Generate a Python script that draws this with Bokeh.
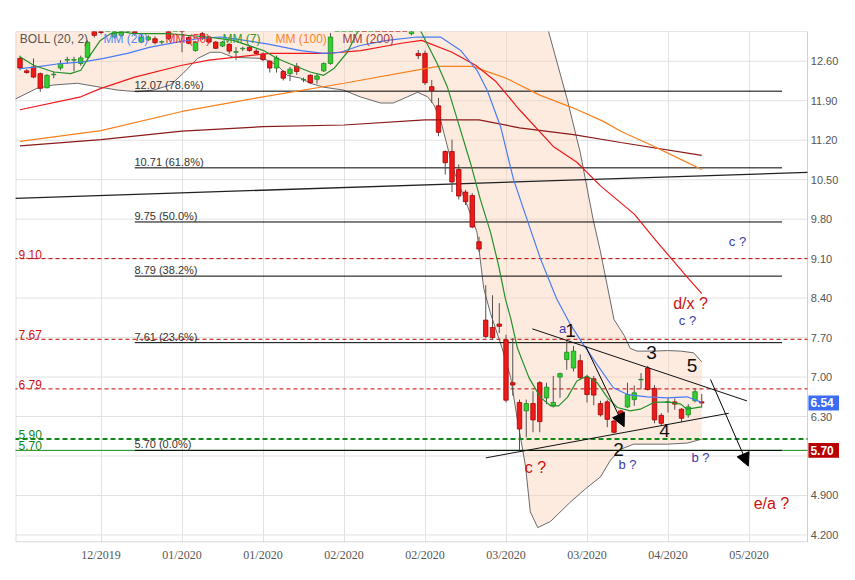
from bokeh.plotting import figure
from bokeh.models import FixedTicker, Label, Arrow, NormalHead, ColumnDataSource
from bokeh.core.properties import value
from bokeh.embed import file_html
from bokeh.resources import INLINE

# ---------------- data ----------------
opens = [12.65, 12.43, 12.50, 12.38, 12.13, 12.36, 12.48, 12.62, 12.62, 12.56,
         12.67, 13.22, 13.25, 13.15, 13.03, 13.06, 13.20, 13.25, 12.94, 12.98,
         13.00, 12.94, 13.20, 13.15, 13.22, 13.02, 12.79, 13.09, 13.03, 12.94,
         12.87, 12.90, 12.76, 12.82, 12.85, 12.78, 12.73, 12.60, 12.48, 12.42,
         12.38, 12.51, 12.27, 12.35, 12.28, 12.43, 12.56, 13.20, 13.40, 13.55,
         13.62, 13.70, 13.65, 13.85, 13.80, 13.70, 13.55, 13.45, 13.09, 12.74,
         12.74, 12.15, 11.81, 11.00, 11.00, 10.68, 10.28, 10.22, 9.40, 8.01,
         7.88, 7.94, 7.66, 6.90, 6.55, 6.40, 6.53, 6.90, 6.63, 6.49,
         7.00, 7.31, 7.16, 7.29, 7.00, 6.97, 6.53, 6.56, 6.22, 6.40,
         6.47, 6.60, 6.95, 7.16, 6.80, 6.32, 6.55, 6.56, 6.43, 6.33,
         6.58, 6.56]
highs = [12.70, 12.46, 12.65, 12.40, 12.37, 12.42, 12.62, 12.68, 12.68, 12.70,
         12.97, 13.30, 13.32, 13.40, 13.30, 13.28, 13.35, 13.32, 13.10, 13.06,
         13.04, 12.97, 13.25, 13.30, 13.30, 13.05, 12.96, 13.12, 13.05, 12.96,
         12.96, 12.92, 12.85, 12.86, 12.87, 12.82, 12.76, 12.62, 12.70, 12.44,
         12.50, 12.57, 12.31, 12.37, 12.38, 12.58, 13.10, 13.45, 13.60, 13.70,
         13.80, 13.85, 13.90, 13.95, 13.90, 13.80, 13.65, 13.55, 13.45, 12.80,
         12.79, 12.27, 11.95, 11.02, 11.21, 10.77, 10.32, 10.26, 9.49, 8.63,
         8.45, 8.31, 7.75, 7.69, 6.60, 6.60, 6.75, 6.93, 6.90, 7.02,
         7.08, 7.66, 7.55, 7.40, 7.04, 7.02, 6.58, 6.60, 6.25, 6.42,
         6.90, 6.85, 7.07, 7.20, 6.86, 6.36, 6.63, 6.62, 6.45, 6.52,
         6.80, 6.70]
lows = [12.44, 12.38, 12.30, 12.06, 12.12, 12.30, 12.44, 12.55, 12.42, 12.52,
        12.65, 13.02, 13.08, 13.14, 13.00, 13.03, 13.12, 13.05, 12.92, 12.96,
        12.90, 12.90, 12.98, 13.14, 12.76, 12.90, 12.77, 12.98, 12.92, 12.82,
        12.85, 12.73, 12.62, 12.78, 12.77, 12.72, 12.60, 12.40, 12.40, 12.26,
        12.25, 12.36, 12.23, 12.20, 12.20, 12.41, 12.54, 13.16, 13.30, 13.45,
        13.50, 13.55, 13.60, 13.70, 13.60, 13.50, 13.35, 13.25, 13.06, 12.64,
        12.18, 11.86, 11.27, 10.59, 10.28, 10.15, 10.05, 9.64, 9.22, 7.69,
        7.66, 7.78, 6.55, 6.67, 5.70, 5.93, 6.02, 6.02, 6.52, 6.46,
        6.63, 7.13, 7.10, 6.96, 6.55, 6.50, 6.30, 6.11, 6.00, 6.22,
        6.45, 6.49, 6.78, 6.76, 6.18, 6.14, 6.37, 6.42, 6.20, 6.28,
        6.55, 6.46]
closes = [12.48, 12.40, 12.32, 12.12, 12.35, 12.37, 12.56, 12.63, 12.63, 12.66,
          12.94, 13.06, 13.11, 13.30, 13.25, 13.20, 13.28, 13.10, 13.03, 13.03,
          12.93, 12.945, 13.00, 13.25, 13.18, 12.92, 12.94, 13.00, 12.94, 12.83,
          12.94, 12.78, 12.77, 12.83, 12.79, 12.74, 12.63, 12.48, 12.66, 12.30,
          12.46, 12.42, 12.275, 12.22, 12.34, 12.56, 13.03, 13.40, 13.55, 13.62,
          13.70, 13.65, 13.85, 13.80, 13.70, 13.55, 13.45, 13.30, 13.40, 12.70,
          12.22, 12.08, 11.34, 10.80, 10.46, 10.21, 10.11, 9.66, 9.27, 7.72,
          7.70, 7.90, 6.59, 6.86, 6.08, 6.53, 6.24, 6.21, 6.82, 6.55,
          7.06, 7.44, 7.46, 6.99, 6.69, 6.68, 6.33, 6.25, 6.02, 6.24,
          6.69, 6.72, 6.96, 6.78, 6.24, 6.18, 6.56, 6.52, 6.27, 6.47,
          6.74, 6.54]

# moving averages (bar index, value)
ma200_x = [0, 12, 24, 36, 48, 60, 68, 74, 82, 89, 101]
ma200_y = [11.10, 11.21, 11.36, 11.44, 11.47, 11.56, 11.56, 11.42, 11.30, 11.16, 10.93]
ma100_x = [0, 12, 24, 36, 48, 60, 62, 67, 72, 77, 82, 86.5, 89, 93.4, 97.9, 101]
ma100_y = [11.18, 11.37, 11.71, 11.97, 12.21, 12.47, 12.51, 12.51, 12.30, 12.00, 11.77,
           11.53, 11.36, 11.12, 10.86, 10.68]
ma50_x = [0, 9, 12, 17, 24, 28, 37, 45.5, 50.5, 56.5, 59.5, 64, 67.5, 70.5, 74, 79,
          82.5, 86, 91, 94, 96.5, 99, 101]
ma50_y = [11.74, 11.97, 12.12, 12.32, 12.53, 12.62, 12.74, 12.74, 12.79, 12.92, 12.97,
          12.76, 12.53, 12.24, 11.74, 11.09, 10.81, 10.39, 9.89, 9.45, 9.10, 8.75, 8.48]
ma20_x = [0, 2.5, 6, 9.4, 12.4, 15.9, 19.3, 23.3, 26.3, 29.7, 31.6, 36.6, 41.6, 45,
          47.5, 50.4, 54.4, 58.8, 62.3, 65.3, 67.7, 69.2, 71.2, 73.1, 75.1, 77.1, 79.5,
          81.6, 83.5, 85.5, 87.9, 90, 92.9, 95.9, 98.8, 101]
ma20_y = [12.47, 12.50, 12.56, 12.59, 12.65, 12.74, 12.85, 12.94, 13.00, 13.03, 13.00,
          12.91, 12.79, 12.74, 12.76, 12.88, 12.97, 13.03, 13.03, 12.79, 12.44, 12.09,
          11.44, 10.51, 9.80, 9.10, 8.39, 7.92, 7.57, 7.22, 6.81, 6.69, 6.65, 6.63,
          6.65, 6.55]
ma7_x = [0, 2, 5, 7.5, 9, 10.4, 11.9, 13.4, 15.3, 16.8, 21.9, 24.8, 27.8, 31.6, 36.1,
         38.1, 40.5, 43, 45, 46.5, 48.5, 50, 53.4, 56.4, 59.3, 61.8, 63.3, 64.8, 66.7,
         68.2, 69.7, 70.9, 71.9, 72.7, 73.7, 75.4, 77.1, 78.6, 79.8, 81.1, 82.5, 84,
         85.5, 87, 88.5, 90.4, 91.9, 93.9, 95.9, 97.9, 98.8, 101]
ma7_y = [12.68, 12.53, 12.41, 12.38, 12.44, 12.71, 12.97, 13.09, 13.12, 13.09, 13.09,
         13.06, 13.03, 12.97, 12.79, 12.65, 12.53, 12.41, 12.35, 12.47, 12.76, 13.12,
         13.45, 13.50, 13.15, 12.56, 12.15, 11.56, 10.81, 10.15, 9.57, 8.98, 8.39,
         8.04, 7.51, 6.99, 6.64, 6.49, 6.49, 6.64, 6.93, 7.02, 6.90, 6.64, 6.46, 6.40,
         6.43, 6.55, 6.56, 6.52, 6.43, 6.47]

# Bollinger (20, 2)
bb_up_x = [-0.7, 20, 40, 60, 70, 76, 78.3, 81.1, 83.0, 84.9, 86.0, 87.0, 88.0, 89.5,
           90.4, 91.4, 93.9, 95.9, 97.9, 99.8, 101]
bb_up_y = [13.25, 13.5, 13.6, 14.0, 14.6, 14.2, 13.13, 11.91, 10.98, 9.80, 9.22, 8.62,
           8.02, 7.74, 7.51, 7.46, 7.46, 7.47, 7.46, 7.43, 7.27]
bb_low_x = [-0.7, 2.5, 5.0, 8.5, 11.4, 14.4, 17.4, 19.8, 22.3, 24.2, 26.3, 28.2, 29.7,
            31.6, 36.1, 38.1, 39.6, 41.6, 43.0, 45.0, 47.9, 50.4, 53.4, 55.3, 57.4, 58.9,
            60.4, 61.3, 62.3, 64.2, 66.3, 67.7, 68.7, 69.7, 71.4, 72.7, 73.7, 74.4, 74.9,
            75.6, 76.7, 78.6, 81.6, 83.8, 86.0, 87.5, 89.0, 90.9, 95.9, 98.9, 101]
bb_low_y = [11.93, 12.12, 12.18, 12.21, 12.15, 12.09, 12.06, 12.09, 12.18, 12.39, 12.65,
            12.76, 12.76, 12.67, 12.65, 12.53, 12.35, 12.30, 12.21, 12.14, 12.09, 11.97,
            11.86, 11.86, 11.97, 12.05, 11.97, 11.83, 11.56, 10.68, 10.03, 9.57, 8.57,
            8.13, 7.52, 6.99, 6.23, 5.76, 5.41, 4.61, 4.33, 4.44, 4.79, 5.02, 5.23, 5.53,
            5.72, 5.81, 5.81, 5.83, 5.90]

# levels
fib_levels = [12.07, 10.71, 9.75, 8.79, 7.61, 5.70]
fib_pcts = ["78.6%", "61.8%", "50.0%", "38.2%", "23.6%", "0.0%"]
red_levels = [9.10, 7.67, 6.79]
green_dash_levels = [5.90]
green_levels = [5.70]
marker_prices = [6.54, 5.70]
marker_colors = ["#3a6cf4", "#b80000"]

# drawn trend lines (bar index, price)
trend_x = [-0.7, 116.667]
trend_y = [10.17, 10.63]
wedge_top_x = [75.9, 107.7]
wedge_top_y = [7.855, 6.577]
wedge_bot_x = [69.0, 105.0]
wedge_bot_y = [5.567, 6.358]
arrow1 = [83.8, 7.545, 89.5, 6.12]
arrow2 = [102.3, 6.957, 107.9, 5.42]

x_tick_pos = [12, 24, 36, 48, 60, 72, 84, 96, 108]
x_tick_labels = ["12/2019", "01/2020", "01/2020", "02/2020", "02/2020",
                 "03/2020", "03/2020", "04/2020", "05/2020"]
y_tick_pos = [12.6, 11.9, 11.2, 10.5, 9.8, 9.1, 8.4, 7.7, 7.0, 6.3, 5.6, 4.9, 4.2]
y_tick_labels = ["12.60", "11.90", "11.20", "10.50", "9.80", "9.10", "8.40", "7.70",
                 "7.00", "6.30", "", "4.900", "4.200"]

# ---------------- figure ----------------
FONT = "Liberation Sans"
X0, X1 = -0.667, 116.667        # chart area (price axis sits right of X1)
Y0, Y1 = 4.066, 13.128
p = figure(width=839, height=564, x_range=(X0, 121.407), y_range=(Y0, Y1),
           y_axis_location=None, output_backend="svg", toolbar_location=None,
           min_border_left=15, min_border_right=0, min_border_top=31, min_border_bottom=18)
p.background_fill_color = "white"
p.border_fill_color = "white"
p.outline_line_color = None
p.ygrid.visible = False

p.xaxis.ticker = FixedTicker(ticks=x_tick_pos, minor_ticks=[])
p.xaxis.major_label_overrides = dict(zip(x_tick_pos, x_tick_labels))
p.xaxis.axis_line_color = None
p.xaxis.major_tick_line_color = None
p.xaxis.minor_tick_line_color = None
p.xaxis.major_tick_out = 0
p.xaxis.major_tick_in = 0
p.xaxis.major_label_text_color = "#555555"
p.xaxis.major_label_standoff = 5
p.xaxis.major_label_text_font = "Liberation Sans Narrow"
p.xaxis.major_label_text_font_size = "12px"
p.xgrid.grid_line_color = "#e2e2e2"

# horizontal grid + frame of the chart area
n = len(y_tick_pos)
p.segment(x0=[X0] * n, y0=y_tick_pos, x1=[X1] * n, y1=y_tick_pos,
          line_color="#e2e2e2", line_width=1)
p.line([X0 + 0.05, X1, X1, X0 + 0.05, X0 + 0.05], [Y0 + 0.01, Y0 + 0.01, Y1, Y1, Y0 + 0.01],
       line_color="#d0d0d0", line_width=1)

# Bollinger band
band_x = bb_up_x + bb_low_x[::-1]
band_y = bb_up_y + bb_low_y[::-1]
p.patch(band_x, band_y, fill_color="#fad0b5", fill_alpha=0.42, line_color=None)
p.line(bb_up_x, bb_up_y, line_color="#6a6a6a", line_width=1)
p.line(bb_low_x, bb_low_y, line_color="#6a6a6a", line_width=1)

# horizontal levels
XL, XR = -2, X1
for lv in green_levels:
    p.line([XL, XR], [lv, lv], line_color="#12881a", line_width=1)
for lv in red_levels:
    p.line([XL, XR], [lv, lv], line_color="#c40000", line_width=1, line_dash="4 3")
for lv in green_dash_levels:
    p.line([XL, XR], [lv, lv], line_color="#12881a", line_width=2, line_dash="5 3")
p.segment(x0=[17.0] * len(fib_levels), y0=fib_levels, x1=[112.9] * len(fib_levels),
          y1=fib_levels, line_color="black", line_width=1)
p.line(trend_x, trend_y, line_color="#222222", line_width=1.3)

# candles
idx = list(range(len(opens)))
tops = [max(o, c) for o, c in zip(opens, closes)]
bots = [min(o, c) for o, c in zip(opens, closes)]
up = [c >= o for o, c in zip(opens, closes)]
src = ColumnDataSource(dict(
    x=idx, h=highs, l=lows, t=tops, b=bots,
    fill=["#2fd02f" if u else "#ee1b1b" for u in up],
    edge=["#1c8c1c" if u else "#a80000" for u in up],
))
p.segment(x0="x", y0="h", x1="x", y1="l", source=src, line_color="#555050", line_width=1)
p.vbar(x="x", width=0.66, top="t", bottom="b", source=src,
       fill_color="fill", line_color="edge", line_width=0.8)

# moving averages
p.line(ma200_x, ma200_y, line_color="#8b1a1a", line_width=1.2)
p.line(ma100_x, ma100_y, line_color="#f7801e", line_width=1.2)
p.line(ma50_x, ma50_y, line_color="#f01818", line_width=1.2)
p.line(ma20_x, ma20_y, line_color="#4a7bf5", line_width=1.2)
p.line(ma7_x, ma7_y, line_color="#23902a", line_width=1.2)

# wedge & arrows
p.line(wedge_top_x, wedge_top_y, line_color="#111111", line_width=1)
p.line(wedge_bot_x, wedge_bot_y, line_color="#111111", line_width=1)
for a in (arrow1, arrow2):
    p.add_layout(Arrow(end=NormalHead(size=13, fill_color="black", line_color="black"),
                       x_start=a[0], y_start=a[1], x_end=a[2], y_end=a[3],
                       line_color="black", line_width=1))

# price axis labels (right side)
yl = [(v, t) for v, t in zip(y_tick_pos, y_tick_labels) if t]
p.text(x=[117.15] * len(yl), y=[v for v, _ in yl], text=[t for _, t in yl],
       text_font=value(FONT), text_font_size="11px", text_color="#555555",
       text_baseline="middle", text_align="left")

# price markers on the axis
half = 7.5 / 56.83
p.quad(left=[116.8] * 2, right=[125] * 2, bottom=[v - half for v in marker_prices],
       top=[v + half for v in marker_prices], fill_color=marker_colors, line_color=None)
p.text(x=[117.1] * 2, y=marker_prices, text=["%.2f" % v for v in marker_prices],
       text_font=value(FONT), text_font_size="12px", text_font_style="bold",
       text_color="white", text_baseline="middle", text_align="left")


def lab(x, y, text, color, size, align="left", baseline="middle", style="normal", **kw):
    p.add_layout(Label(x=x, y=y, text=text, text_color=color, text_font=FONT,
                       text_font_size=size, text_align=align, text_baseline=baseline,
                       text_font_style=style, **kw))


# titles
lab(-0.67, 13.533, "CREDIT AGRICOLE - abcbourse.com", "#808080", "12px")
lab(116.52, 13.533, "2 ANS - JOUR", "#808080", "12px", align="right")

# legend
legend = [("BOLL (20, 2)", "#555555", -0.03), ("MM (20)", "#5a86f7", 12.37),
          ("MM (50)", "#ee3030", 21.56), ("MM (7)", "#2f9a2f", 30.0),
          ("MM (100)", "#f8842a", 37.85), ("MM (200)", "#9c4040", 47.78)]
for t, c, x in legend:
    lab(x, 12.987, t, c, "12px")

# level labels
for lv in red_levels:
    lab(-0.22, lv, "%.2f" % lv, "#d01010", "12px", baseline="bottom")
for lv in green_dash_levels + green_levels:
    lab(-0.22, lv, "%.2f" % lv, "#12881a", "12px", baseline="bottom")
for lv, pc in zip(fib_levels, fib_pcts):
    lab(16.96, lv, "%.2f  (%s)" % (lv, pc), "#333333", "11px", baseline="bottom")

# wave annotations
for t, x, y in [("1", 81.56, 7.831), ("2", 88.67, 5.720), ("3", 93.56, 7.444),
                ("4", 95.48, 6.054), ("5", 99.56, 7.198)]:
    lab(x, y, t, "#111111", "19px", align="center")
for t, x, y in [("a", 80.37, 7.867), ("b ?", 90.0, 5.456), ("b ?", 100.81, 5.579),
                ("c ?", 106.3, 9.397), ("c ?", 98.89, 8.007)]:
    lab(x, y, t, "#3a3aa8", "13px", align="center")
for t, x, y in [("c ?", 76.37, 5.403), ("d/x ?", 99.33, 8.307), ("e/a ?", 111.33, 4.752)]:
    lab(x, y, t, "#cc1111", "16px", align="center")

open("out.html", "w").write(file_html(p, INLINE))
